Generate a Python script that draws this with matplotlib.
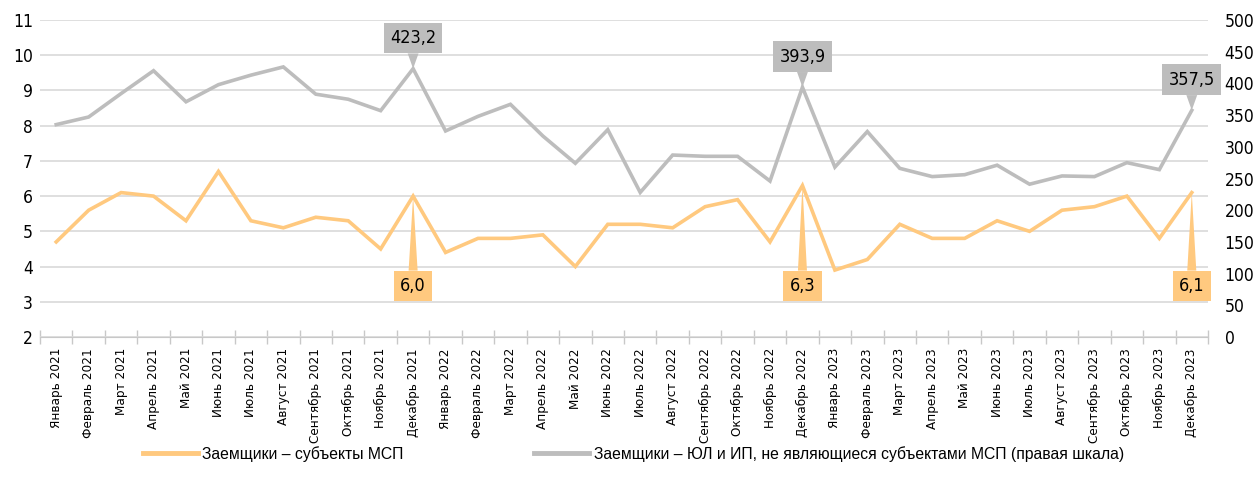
import numpy as np
import matplotlib
matplotlib.use("Agg")
from matplotlib import pyplot as plt

months = ["Январь", "Февраль", "Март", "Апрель", "Май", "Июнь", "Июль",
          "Август", "Сентябрь", "Октябрь", "Ноябрь", "Декабрь"]
years = ["2021", "2022", "2023"]
labels = [m + " " + y for y in years for m in months]

# Заемщики - субъекты МСП (левая шкала)
msp = [4.7, 5.6, 6.1, 6.0, 5.3, 6.7, 5.3, 5.1, 5.4, 5.3, 4.5, 6.0,
       4.4, 4.8, 4.8, 4.9, 4.0, 5.2, 5.2, 5.1, 5.7, 5.9, 4.7, 6.3,
       3.9, 4.2, 5.2, 4.8, 4.8, 5.3, 5.0, 5.6, 5.7, 6.0, 4.8, 6.1]
# Заемщики - ЮЛ и ИП, не являющиеся субъектами МСП (правая шкала)
non_msp = [335, 347, 384, 420, 371, 398, 413, 426, 383, 375, 357, 423.2,
           325, 348, 367, 317, 274, 327, 228, 287, 285, 285, 246, 393.9,
           268, 324, 266, 253, 256, 271, 241, 254, 253, 275, 264, 357.5]

msp_labels = {11: "6,0", 23: "6,3", 35: "6,1"}
non_msp_labels = {11: "423,2", 23: "393,9", 35: "357,5"}

orange = "#FFC97F"
grey = "#BDBDBD"
narrow = ["DejaVu Sans"]

plt.rcParams['font.family'] = ['Liberation Sans', 'DejaVu Sans']

fig = plt.figure(figsize=(12.54, 4.91), dpi=100)
ax = fig.add_axes([40 / 1254, 1 - 337 / 491, 1168 / 1254, 317 / 491])
ax2 = ax.twinx()

x = np.arange(len(labels))
ax.plot(x, msp, color=orange, lw=2.6, solid_joinstyle="miter", zorder=3)
ax2.plot(x, non_msp, color=grey, lw=2.6, solid_joinstyle="miter", zorder=3)

ax.set_xlim(-0.5, len(labels) - 0.5)
ax.set_ylim(2, 11)
ax.set_yticks(range(2, 12))
ax2.set_ylim(0, 500)
ax2.set_yticks(range(0, 501, 50))

for a in (ax, ax2):
    for s in a.spines.values():
        s.set_visible(False)
    a.tick_params(axis="y", length=0, labelsize=12.5)
    for t in a.get_yticklabels():
        t.set_family(narrow)
        t.set_stretch("condensed")
ax.tick_params(axis="y", pad=5)
ax2.tick_params(axis="y", pad=12)

ax.grid(axis="y", color="#D9D9D9", lw=1.2)
ax.set_axisbelow(True)
ax.spines["bottom"].set_visible(True)
ax.spines["bottom"].set_color("#C8C8C8")

ax.set_xticks(x)
ax.set_xticklabels(labels, rotation=90, fontsize=9.6, family=narrow,
                   fontstretch="condensed")
ax.tick_params(axis="x", length=0, pad=8)
ax.set_xticks(np.arange(-0.5, len(labels)), minor=True)
ax.tick_params(axis="x", which="minor", direction="inout", length=10,
               color="#C8C8C8", width=1)

# callouts
box_level = 3.45
for i, txt in msp_labels.items():
    ax.annotate(txt, (x[i], msp[i]), xytext=(x[i], box_level), textcoords="data",
                ha="center", va="center", fontsize=13, family=narrow,
                fontstretch="condensed",
                bbox=dict(boxstyle="square,pad=0.35", fc=orange, ec="none"),
                arrowprops=dict(arrowstyle="wedge,tail_width=0.5,shrink_factor=0.5",
                                fc=orange, ec="none", shrinkA=0, shrinkB=0),
                zorder=5)
for i, txt in non_msp_labels.items():
    ax2.annotate(txt, (x[i], non_msp[i]), xytext=(0, 22), textcoords="offset points",
                 ha="center", va="center", fontsize=13, family=narrow,
                 fontstretch="condensed",
                 bbox=dict(boxstyle="square,pad=0.35", fc=grey, ec="none"),
                 arrowprops=dict(arrowstyle="wedge,tail_width=0.6,shrink_factor=0.5",
                                 fc=grey, ec="none", shrinkA=0, shrinkB=0),
                 zorder=5)

h1, = ax.plot([], [], color=orange, lw=3.5)
h2, = ax.plot([], [], color=grey, lw=3.5)
fig.legend([h1, h2], ["Заемщики – субъекты МСП",
                      "Заемщики – ЮЛ и ИП, не являющиеся субъектами МСП (правая шкала)"],
           loc="center", bbox_to_anchor=(0.505, 1 - 454 / 491), ncol=2, frameon=False,
           handlelength=3.5, handletextpad=0.3, columnspacing=8.3,
           prop={"family": ["Liberation Sans", "DejaVu Sans"], "size": 11.3})

fig.savefig("out.png", dpi=100)
